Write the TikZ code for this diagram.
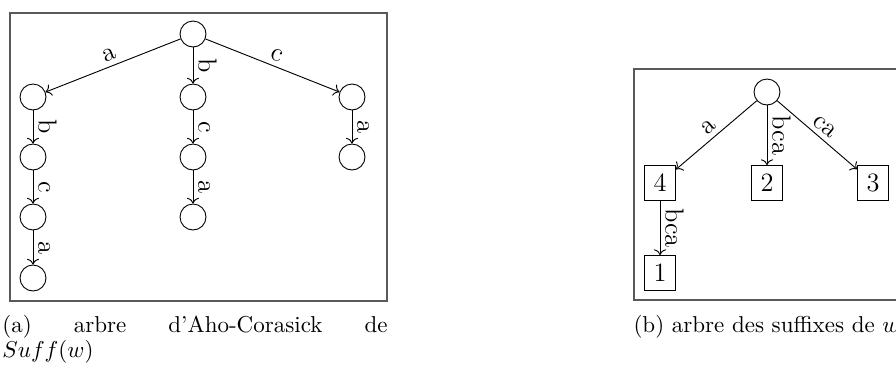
\documentclass[tikz,border=0pt]{standalone}
\usetikzlibrary{arrows.meta, positioning}

\begin{document}
\begin{tikzpicture}[
    x=0.435pt, y=-0.435pt,
    statenode/.style={circle, draw, minimum size=11.3pt, inner sep=0pt},
    leafbox/.style={rectangle, draw, minimum width=13.5pt, minimum height=15.2pt,
                    inner sep=0pt, font=\fontsize{11.5}{13}\selectfont},
    trans/.style={->, draw},
    lettertag/.style={font=\fontsize{11.5}{13}\selectfont, sloped, above, inner sep=2pt},
    framebox/.style={draw=black!65, line width=0.5pt},
    captext/.style={font=\fontsize{10}{9.6}\selectfont, inner sep=0pt}
  ]
    \useasboundingbox (0,0) rectangle (896,367);
    \clip (0,0) rectangle (896,367);

    % Frames of the two sub-figures
    \draw[framebox] (10,13) rectangle (387,301);
    \draw[framebox] (634,69) rectangle (899,300);

    % (a) Aho-Corasick tree
    \node[statenode] (root) at (193,34) {};
    \node[statenode] (a1) at (33,97) {};
    \node[statenode] (a2) at (33,157) {};
    \node[statenode] (a3) at (33,217) {};
    \node[statenode] (a4) at (33,278) {};
    \node[statenode] (b1) at (193,97) {};
    \node[statenode] (b2) at (193,157) {};
    \node[statenode] (b3) at (193,217) {};
    \node[statenode] (c1) at (352,97) {};
    \node[statenode] (c2) at (352,157) {};

    \draw[trans] (root) -- (a1) node[midway, lettertag] {a};
    \draw[trans] (a1) -- (a2) node[midway, lettertag] {b};
    \draw[trans] (a2) -- (a3) node[midway, lettertag] {c};
    \draw[trans] (a3) -- (a4) node[midway, lettertag] {a};
    \draw[trans] (root) -- (b1) node[midway, lettertag] {b};
    \draw[trans] (b1) -- (b2) node[midway, lettertag] {c};
    \draw[trans] (b2) -- (b3) node[midway, lettertag] {a};
    \draw[trans] (root) -- (c1) node[midway, lettertag] {c};
    \draw[trans] (c1) -- (c2) node[midway, lettertag] {a};

    % (b) suffix tree
    \node[statenode] (sroot) at (767,92) {};
    \node[leafbox] (leaf4) at (660,183) {4};
    \node[leafbox] (leaf2) at (767,183) {2};
    \node[leafbox] (leaf3) at (873,183) {3};
    \node[leafbox] (leaf1) at (660,273) {1};

    \draw[trans] (sroot) -- (leaf4) node[midway, lettertag] {a};
    \draw[trans] (sroot) -- (leaf2) node[midway, lettertag] {bca};
    \draw[trans] (sroot) -- (leaf3) node[midway, lettertag] {ca};
    \draw[trans] (leaf4) -- (leaf1) node[midway, lettertag] {bca};

    % Captions
    \node[captext, anchor=north west, text width=167.5pt, align=justify] (capa) at (2,315)
      {\noindent(a) arbre d'Aho-Corasick de\linebreak $Suff(w)$};
    \node[captext, anchor=base] (capb) at (766.5,332) {(b) arbre des suffixes de $w$};
  \end{tikzpicture}
\end{document}
